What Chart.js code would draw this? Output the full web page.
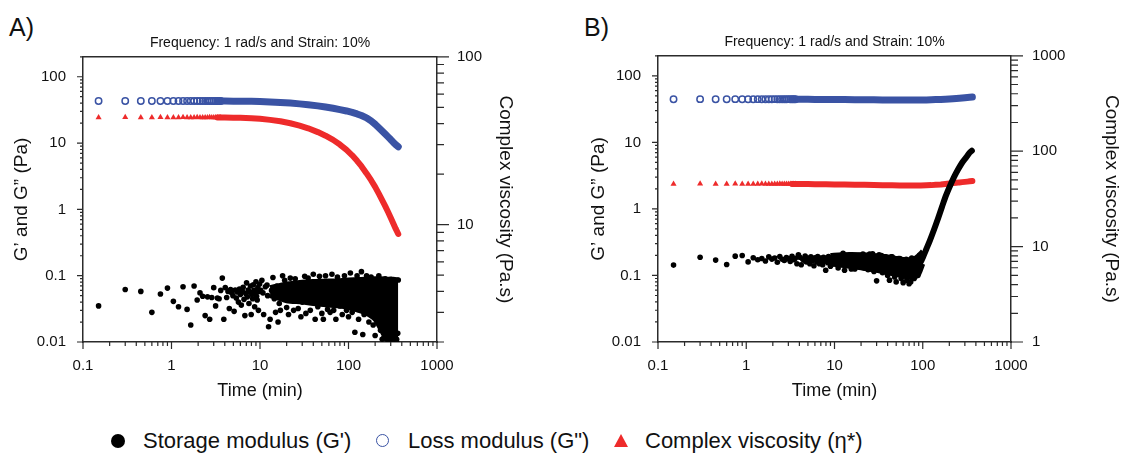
<!DOCTYPE html>
<html>
<head>
<meta charset="utf-8">
<script src="https://cdn.jsdelivr.net/npm/chart.js@4.4.0/dist/chart.umd.min.js"></script>
<style>
  body { margin: 0; background: #fff; width: 1124px; height: 462px; overflow: hidden; position: relative;
         font-family: "Liberation Sans", Arial, sans-serif; color: #111; }
  canvas { position: absolute; top: 0; }
  .pl { position: absolute; font-size: 25px; line-height: 1; }
  .lg { position: absolute; top: 428px; font-size: 22px; line-height: 26px; white-space: nowrap; }
  .mk { position: absolute; top: 434px; }
</style>
</head>
<body>
<div class="pl" style="left:9px;top:15px">A)</div>
<div class="pl" style="left:584px;top:15px">B)</div>
<canvas id="chartA" width="560" height="402" style="left:0"></canvas>
<canvas id="chartB" width="564" height="402" style="left:560px"></canvas>

<div class="mk" style="left:111px;width:14px;height:14px;border-radius:50%;background:#000"></div>
<div class="lg" style="left:143px">Storage modulus (G')</div>
<div class="mk" style="left:376px;width:11px;height:11px;border-radius:50%;border:1.6px solid #3a53a4"></div>
<div class="lg" style="left:408px">Loss modulus (G")</div>
<div class="mk" style="left:614px;width:0;height:0;border-left:7px solid transparent;border-right:7px solid transparent;border-bottom:13px solid #ee2b2b"></div>
<div class="lg" style="left:645px">Complex viscosity (η*)</div>

<script>
/* sampling times of the smooth curves (min) */
var tEarly = [0.15, 0.3, 0.45, 0.6, 0.75, 0.9, 1.05, 1.2, 1.35, 1.5, 1.65, 1.8, 1.95, 2.1, 2.25, 2.4, 2.55, 2.7, 2.85, 3, 3.15, 3.3, 3.45, 3.6];
var tLate = [4, 5, 6, 8, 10, 13, 17, 22, 28, 35, 45, 55, 67, 80, 95, 110, 125, 140, 160, 180, 200, 220, 240, 260, 280, 300, 320, 340, 365];

/* Panel A */
var lossA = [43, 43.1, 43, 43.1, 43, 43.1, 43, 43, 43.1, 43, 43, 43.1, 43, 43, 43.1, 43, 43, 43, 43.1, 43, 43, 43, 43.1, 43,
             43.0, 42.9, 42.8, 42.6, 42.2, 41.7, 41.0, 40.1, 39.0, 37.9, 36.4, 35.0, 33.5, 32.0, 30.5, 29.0, 27.5, 26.0, 24.0, 21.6, 19.2, 17.0, 15.2, 13.7, 12.4, 11.3, 10.3, 9.5, 8.8];
var viscA = [43.5, 43.6, 43.5, 43.5, 43.6, 43.5, 43.5, 43.5, 43.6, 43.5, 43.5, 43.5, 43.6, 43.5, 43.5, 43.5, 43.5, 43.6, 43.5, 43.5, 43.5, 43.5, 43.5, 43.5,
             43.5, 43.4, 43.3, 43.1, 42.7, 42.1, 41.3, 40.2, 38.9, 37.5, 35.6, 33.9, 32.0, 30.0, 27.9, 25.9, 24.0, 22.3, 20.2, 18.4, 16.8, 15.3, 14.0, 12.9, 11.9, 11.0, 10.2, 9.5, 8.8];

var tStor = [0.15, 0.3, 0.45, 0.6, 0.75, 0.9, 1.05, 1.2, 1.35, 1.5, 1.65, 1.8, 1.95, 2.1, 2.25, 2.4, 2.55, 2.7, 2.85, 3, 3.15, 3.3, 3.45, 3.6, 3.75, 3.9, 4.05,
             4.2, 4.35, 4.5, 4.65, 4.8, 4.95, 5.1, 5.25, 5.4, 5.55, 5.7, 5.85, 6, 6.15, 6.3, 6.45, 6.6, 6.75, 6.9, 7.05, 7.2, 7.35, 7.5, 7.65, 7.8, 7.95, 8.1,
             8.25, 8.4, 8.55, 8.7, 8.85, 9, 9.15, 9.3, 9.45, 9.6, 9.75, 9.9];
var storA = [.035, .062, .058, .028, .053, .065, .041, .034, .068, .031, .018, .070, .043, .055, .049, .025, .048, .022, .047, .066, .035, .046, .045, .060,
             .092, .022, .066, .047, .058, .032, .062, .055, .050, .029, .061, .046, .057, .040, .063, .052, .036, .059, .067, .044, .025, .054, .078, .048,
             .061, .038, .057, .070, .026, .052, .045, .073, .060, .034, .056, .081, .049, .043, .066, .030, .058, .075];
var tOutA = [10.2, 10.5, 10.8, 11, 11.5, 12, 12.2, 12.5, 13, 13.5, 14, 14.5, 15, 15.5, 16, 16.5, 17, 17.5, 18, 19, 20, 21, 22, 24, 25, 27, 29, 30, 32, 33,
             35, 37, 40, 42, 45, 47, 50, 52, 55, 58, 62, 65, 68, 72, 75, 80, 85, 90, 95, 100, 105, 110, 118, 125, 130, 140, 145, 150, 160, 170, 180, 190,
             200, 210, 220, 230, 240, 250, 260, 270, 280, 290, 300, 310, 320, 335, 350, 360, 365];
var outA = [.06, .085, .055, .026, .068, .072, .05, .017, .022, .06, .094, .045, .028, .07, .02, .038, .03, .065, .1, .085, .033, .026, .092, .03, .09, .032,
            .024, .04, .098, .027, .092, .03, .105, .022, .034, .098, .027, .022, .1, .031, .028, .105, .03, .022, .095, .035, .026, .1, .03, .024, .11, .028,
            .014, .1, .022, .115, .013, .026, .1, .02, .095, .018, .0125, .02, .1, .015, .011, .0115, .09, .011, .0145, .0108, .088, .011, .012, .0108, .011,
            .0135, .086];
/* edges of the solid black cloud */
var tBandA = [13, 16, 20, 30, 40, 60, 80, 100, 130, 160, 200, 230, 260, 290, 320, 350, 365];
var hiA = [.066, .07, .075, .08, .082, .083, .084, .086, .088, .089, .09, .09, .089, .088, .088, .087, .086];
var loA = [.05, .046, .042, .04, .038, .036, .035, .033, .03, .027, .022, .016, .012, .0108, .0106, .0106, .011];

/* Panel B */
var lossB = [44.5, 44.6, 44.5, 44.5, 44.6, 44.5, 44.5, 44.5, 44.6, 44.5, 44.5, 44.5, 44.5, 44.6, 44.5, 44.5, 44.5, 44.5, 44.5, 44.6, 44.5, 44.5, 44.5, 44.5,
             44.4, 44.3, 44.2, 44.1, 44.0, 43.9, 43.8, 43.7, 43.6, 43.5, 43.4, 43.3, 43.3, 43.3, 43.4, 43.5, 43.7, 43.9, 44.2, 44.6, 45.0, 45.4, 45.8, 46.2, 46.6, 47.0, 47.3, 47.6, 48.0];
var viscB = [45.4, 45.5, 45.4, 45.4, 45.5, 45.4, 45.4, 45.4, 45.4, 45.5, 45.4, 45.4, 45.4, 45.4, 45.4, 45.5, 45.4, 45.4, 45.4, 45.4, 45.4, 45.4, 45.3, 45.4,
             45.3, 45.2, 45.1, 45.0, 44.9, 44.8, 44.6, 44.4, 44.2, 44.0, 43.9, 43.8, 43.7, 43.7, 43.8, 43.9, 44.1, 44.4, 44.8, 45.3, 45.8, 46.3, 46.7, 47.1, 47.4, 47.7, 48.0, 48.3, 48.6];
var storB = [.143, .188, .170, .146, .195, .200, .160, .185, .172, .180, .165, .190, .176, .183, .158, .192, .175, .168, .186, .179, .162, .194, .172, .181,
             .150, .205, .188, .145, .176, .170, .196, .160, .182, .174, .150, .190, .167, .178, .140, .185, .172, .160, .193, .176, .150, .183, .168, .175,
             .145, .188, .163, .178, .120, .182, .170, .155, .192, .166, .174, .138, .180, .162, .175, .150, .186, .168];
var tOutB = [10.5, 11, 12, 13, 14, 15, 16, 17, 18, 19, 20, 22, 25, 28, 30, 32, 35, 38, 40, 42, 45, 48, 50, 53, 57, 60, 63, 66, 70, 73, 76, 80, 85, 88, 92,
             12.5, 15.5, 21, 24, 27, 34, 44, 55, 65, 75];
var outB = [.17, .13, .185, .12, .16, .205, .15, .125, .19, .2, .145, .13, .21, .115, .083, .205, .11, .19, .1, .085, .19, .095, .08, .18, .09, .078, .16,
            .085, .075, .08, .16, .09, .17, .1, .2,
            .215, .125, .21, .122, .212, .2, .19, .18, .175, .182];
var tBandB = [9, 12, 20, 30, 40, 50, 60, 70, 80, 90, 100];
var hiB = [.2, .205, .205, .198, .19, .18, .174, .172, .178, .2, .23];
var loB = [.15, .142, .13, .12, .11, .104, .098, .094, .094, .105, .15];
var tRiseB = [90, 95, 100, 110, 121, 135, 149, 165, 183, 204, 226, 251, 278, 309, 340, 360];
var riseB = [.15, .16, .185, .25, .34, .5, .72, 1.07, 1.58, 2.23, 3.0, 3.9, 4.9, 5.9, 7.0, 7.5];

var BLUE = '#3a53a4', RED = '#ee2b2b', AXIS = '#2b2b2b', TXT = '#111';
Chart.defaults.font.family = '"Liberation Sans", Arial, sans-serif';
Chart.defaults.color = TXT;

function pts(t, v) {
    return t.map(function (x, i) { return { x: x, y: v[i] }; });
}
function isDecade(v) {
    var l = Math.log10(v);
    return Math.abs(l - Math.round(l)) < 1e-6;
}
/* log tick positions 1..9 x 10^n between min and max */
function logMarks(min, max) {
    var out = [];
    for (var e = Math.floor(Math.log10(min)); e <= Math.ceil(Math.log10(max)); e++) {
        for (var m = 1; m <= 9; m++) {
            var v = m * Math.pow(10, e);
            if (v >= min * 0.999 && v <= max * 1.001) out.push({ v: v, major: m === 1 });
        }
    }
    return out;
}

var tickLen = { x: [7, 4], y: [6, 3], y2: [12, 7] };
var tickMarks = {
    id: 'tickMarks',
    afterDraw: function (chart) {
        var ctx = chart.ctx, a = chart.chartArea;
        ctx.save();
        ctx.strokeStyle = AXIS;
        ctx.lineWidth = 1.5;
        ctx.beginPath();
        ctx.moveTo(a.left, a.top);
        ctx.lineTo(a.right, a.top);
        ctx.stroke();
        ctx.lineWidth = 1.2;
        ['x', 'y', 'y2'].forEach(function (id) {
            var s = chart.scales[id];
            ctx.beginPath();
            logMarks(s.min, s.max).forEach(function (m) {
                var len = m.major ? tickLen[id][0] : tickLen[id][1];
                var p = s.getPixelForValue(m.v);
                if (id === 'x') { ctx.moveTo(p, a.bottom); ctx.lineTo(p, a.bottom + len); }
                else if (id === 'y') { ctx.moveTo(a.left, p); ctx.lineTo(a.left - len, p); }
                else { ctx.moveTo(a.right, p); ctx.lineTo(a.right + len, p); }
            });
            ctx.stroke();
        });
        ctx.restore();
    }
};

function logAxis(pos, min, max, size, pad, title, tsize, titlePad) {
    var ax = {
        type: 'logarithmic', position: pos, min: min, max: max,
        grid: { display: false },
        border: { display: true, color: AXIS, width: 1.5 },
        ticks: {
            autoSkip: false, maxRotation: 0, padding: pad, color: TXT, font: { size: 15 },
            callback: function (v) { return isDecade(v) ? String(v) : ''; }
        },
        title: { display: true, text: title, color: TXT, font: { size: tsize }, padding: titlePad },
        afterBuildTicks: function (s) { s.ticks = s.ticks.filter(function (t) { return isDecade(t.value); }); }
    };
    if (pos === 'bottom') ax.afterFit = function (s) { s.height = size; };
    else ax.afterFit = function (s) { s.width = size; };
    return ax;
}

function curve(data, color, style, axis, width, r) {
    return {
        data: data, yAxisID: axis, showLine: true, tension: 0,
        borderColor: color, borderWidth: width, borderCapStyle: 'round', borderJoinStyle: 'round',
        segment: { borderColor: function (c) { return c.p1.parsed.x <= 3.3 ? 'rgba(0,0,0,0)' : color; } },
        pointStyle: style,
        pointRadius: function (c) { return c.raw && c.raw.x <= 3.6 ? r : 0; },
        pointBackgroundColor: style === 'circle' ? 'rgba(0,0,0,0)' : color,
        pointBorderColor: color, pointBorderWidth: style === 'circle' ? 1.5 : 0
    };
}
function dots(data) {
    return { data: data, yAxisID: 'y', showLine: false, pointRadius: 2.8, pointBackgroundColor: '#000', pointBorderWidth: 0 };
}
function band(data, fill) {
    return { data: data, yAxisID: 'y', showLine: true, tension: 0.3, borderColor: '#000', borderWidth: 5,
             borderJoinStyle: 'round', pointRadius: 0, fill: fill, backgroundColor: '#000' };
}

function makeChart(id, datasets, sz, y2min, y2max) {
    return new Chart(document.getElementById(id), {
        type: 'line',
        data: { datasets: datasets },
        options: {
            responsive: false, animation: false, events: [],
            layout: { padding: 0 },
            plugins: {
                legend: { display: false }, tooltip: { enabled: false },
                title: { display: true, text: 'Frequency: 1 rad/s and Strain: 10%', fullSize: false, color: TXT,
                         font: { size: 14, weight: 'normal' }, padding: { top: sz.tt, bottom: sz.tb } }
            },
            scales: {
                x: logAxis('bottom', 0.1, 1000, 60, 7, 'Time (min)', 18, { top: 0, bottom: 0 }),
                y: logAxis('left', 0.01, 200, sz.l, 9, 'G\u2019 and G\u201d (Pa)', 19, { top: sz.lt, bottom: 0 }),
                y2: logAxis('right', y2min, y2max, sz.r, sz.rp, 'Complex viscosity (Pa.s)', 19, { top: sz.rt, bottom: 0 })
            }
        },
        plugins: [tickMarks]
    });
}

makeChart('chartA', [
    dots(pts(tStor, storA)),
    dots(pts(tOutA, outA)),
    band(pts(tBandA, hiA), '+1'),
    band(pts(tBandA, loA), false),
    curve(pts(tEarly.concat(tLate), viscA), RED, 'triangle', 'y2', 6, 3.5),
    curve(pts(tEarly.concat(tLate), lossA), BLUE, 'circle', 'y', 7, 3.2)
], { l: 83, r: 123, rp: 12, lt: 10, rt: 43, tt: 35, tb: 5 }, 2, 100);

makeChart('chartB', [
    { data: pts(tRiseB, riseB), yAxisID: 'y', showLine: true, tension: 0.3, borderColor: '#000', borderWidth: 6,
      borderCapStyle: 'round', pointRadius: 0 },
    dots(pts(tStor, storB)),
    dots(pts(tOutB, outB)),
    band(pts(tBandB, hiB), '+1'),
    band(pts(tBandB, loB), false),
    curve(pts(tEarly.concat(tLate), viscB), RED, 'triangle', 'y2', 6, 3.5),
    curve(pts(tEarly.concat(tLate), lossB), BLUE, 'circle', 'y', 7, 3.2)
], { l: 98, r: 113, rp: 13, lt: 27, rt: 1, tt: 34, tb: 5 }, 1, 1000);
</script>
</body>
</html>
